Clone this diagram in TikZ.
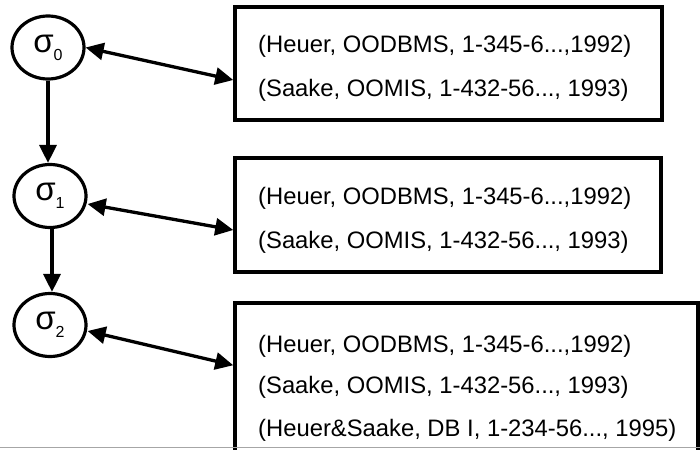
\documentclass[tikz,border=0pt]{standalone}
\usepackage{fontspec}
\setmainfont{Liberation Sans}
\usetikzlibrary{arrows.meta,shapes.geometric}

\begin{document}
\begin{tikzpicture}[x=1pt, y=-1pt,
    state/.style={draw, line width=3.2pt, ellipse, inner sep=0pt,
      minimum width=72pt, minimum height=63pt},
    obox/.style={draw, line width=3.5pt, rectangle, inner sep=0pt},
    tup/.style={anchor=base west, inner sep=0pt,
      font=\fontsize{23.8}{28}\selectfont},
    sig/.style={font=\fontsize{33}{36}\selectfont},
    link/.style={line width=3.3pt, -{Triangle[length=18pt,width=17pt]}},
    blink/.style={line width=3.3pt, {Triangle[length=18pt,width=17pt]}-{Triangle[length=18pt,width=17pt]}}]
  \useasboundingbox (0,0) rectangle (700,449);
  \clip (0,0) rectangle (700,449);
  % states
  \node[state, sig] (s0) at (48,47.5)
    {σ\raisebox{-8pt}{\fontsize{16}{18}\selectfont 0}};
  \node[state, sig] (s1) at (50,196)
    {σ\raisebox{-8pt}{\fontsize{16}{18}\selectfont 1}};
  \node[state, sig] (s2) at (50,325)
    {σ\raisebox{-8pt}{\fontsize{16}{18}\selectfont 2}};
  % object sets
  \node[obox, minimum width=427pt, minimum height=113pt] (b0) at (448.5,63.5) {};
  \node[obox, minimum width=426pt, minimum height=114pt] (b1) at (448,215) {};
  \node[obox, minimum width=463pt, minimum height=170pt] (b2) at (466.5,388) {};
  \node[tup] (t00) at (258,53) {(Heuer, OODBMS, 1-345-6...,1992)};
  \node[tup] (t01) at (258,97) {(Saake, OOMIS, 1-432-56..., 1993)};
  \node[tup] (t10) at (258,204) {(Heuer, OODBMS, 1-345-6...,1992)};
  \node[tup] (t11) at (258,248) {(Saake, OOMIS, 1-432-56..., 1993)};
  \node[tup] (t20) at (258,352) {(Heuer, OODBMS, 1-345-6...,1992)};
  \node[tup] (t21) at (258,393) {(Saake, OOMIS, 1-432-56..., 1993)};
  \node[tup] (t22) at (258,436) {(Heuer\&Saake, DB I, 1-234-56..., 1995)};
  % connectors
  \coordinate (e0) at ([yshift=-16.5pt]b0.west);
  \coordinate (e1) at ([yshift=-15pt]b1.west);
  \coordinate (e2) at ([yshift=-64pt]b2.north west);
  \draw[blink] (s0.east) -- (e0);
  \draw[blink] ([yshift=-8pt]s1.east) -- (e1);
  \draw[blink] ([yshift=-6pt]s2.east) -- (e2);
  \draw[link] (s0.south) -- (s0.south |- s1.north);
  \draw[link] ([xshift=2pt]s1.south) -- ([xshift=2pt]s2.north);
  \draw[gray!70, line width=1.2pt] (0,447.8) -- (700,447.8);
\end{tikzpicture}
\end{document}
